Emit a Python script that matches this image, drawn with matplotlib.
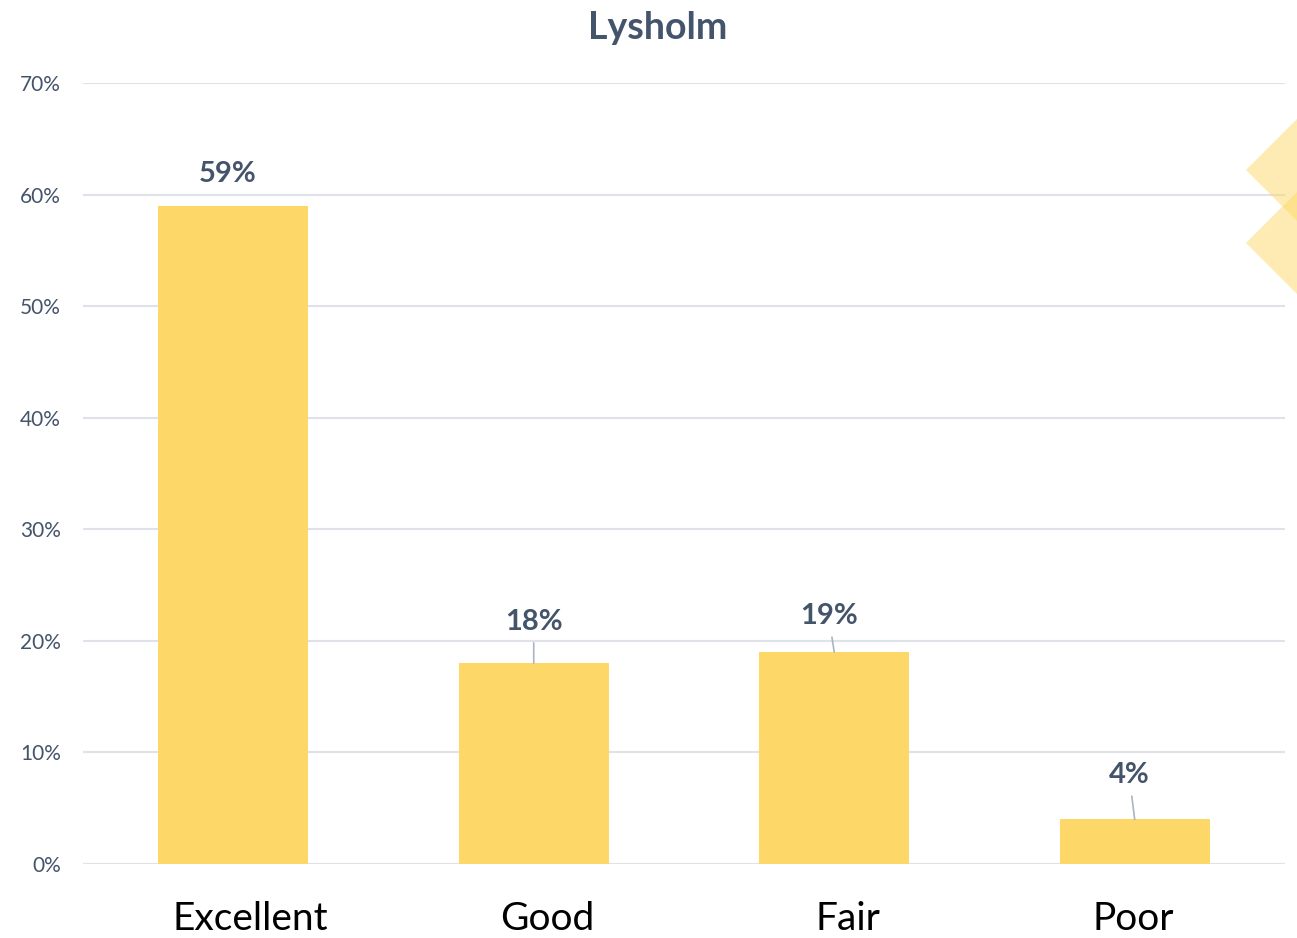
import matplotlib.pyplot as plt
import matplotlib.transforms as mtransforms
from matplotlib.patches import Polygon
from matplotlib.ticker import PercentFormatter

categories = ['Excellent', 'Good', 'Fair', 'Poor']
values = [59, 18, 19, 4]
# label offsets (points) above each bar top, with a leader line where the label floats off
label_dx = [-4, 0, -4, -4]
label_dy = [23, 30, 26, 32]
use_leader = [False, True, True, True]
# small horizontal nudges (points) for the category names
name_dx = [12, 10, 10, -1]

bar_color = '#FDD868'
text_color = '#44546A'
grid_color = '#DFE2E8'

plt.rcParams['font.family'] = ['Lato', 'DejaVu Sans']

fig = plt.figure(figsize=(12.97, 9.38), dpi=100)
ax = fig.add_axes([0.064, 0.0789, 0.9267, 0.8326])

x = range(len(categories))
bars = ax.bar(x, values, width=0.5, color=bar_color, zorder=3)

ax.set_xlim(-0.5, 3.5)
ax.set_ylim(0, 70)
ax.set_yticks(range(0, 71, 10))
ax.yaxis.set_major_formatter(PercentFormatter(decimals=0))
ax.grid(axis='y', color=grid_color, linewidth=1.5, zorder=0)
ax.set_axisbelow(True)
for s in ax.spines.values():
    s.set_visible(False)

ax.tick_params(axis='y', length=0, pad=16, labelsize=15, labelcolor=text_color)
ax.set_xticks(list(x))
ax.set_xticklabels(categories, fontsize=28, color='black')
ax.tick_params(axis='x', length=0, pad=27)
for lbl, dx in zip(ax.get_xticklabels(), name_dx):
    lbl.set_transform(lbl.get_transform() +
                      mtransforms.ScaledTranslation(dx / 72, 0, fig.dpi_scale_trans))

for i, (b, v) in enumerate(zip(bars, values)):
    cx = b.get_x() + b.get_width() / 2
    arrow = dict(arrowstyle='-', color='#A9B4C4', lw=1.2, shrinkA=4, shrinkB=0) if use_leader[i] else None
    ax.annotate(f'{v}%', xy=(cx, v), xytext=(label_dx[i], label_dy[i]),
                textcoords='offset points', ha='center', va='center',
                fontsize=21, fontweight='bold', color=text_color,
                arrowprops=arrow, zorder=4)

fig.suptitle('Lysholm', x=0.507, y=0.988, fontsize=27, fontweight='bold', color=text_color)

# two overlapping diamonds on the right edge
W, H = fig.get_size_inches() * fig.dpi
for cy in (170, 243):
    cxp, r = 1297, 51
    pts = [(cxp - r, cy), (cxp, cy - r), (cxp + r, cy), (cxp, cy + r)]
    pts = [(px / W, 1 - py / H) for px, py in pts]
    fig.patches.append(Polygon(pts, closed=True, transform=fig.transFigure,
                               facecolor='#FDD868', alpha=0.5, edgecolor='none'))

fig.savefig('out.png', dpi=100)
